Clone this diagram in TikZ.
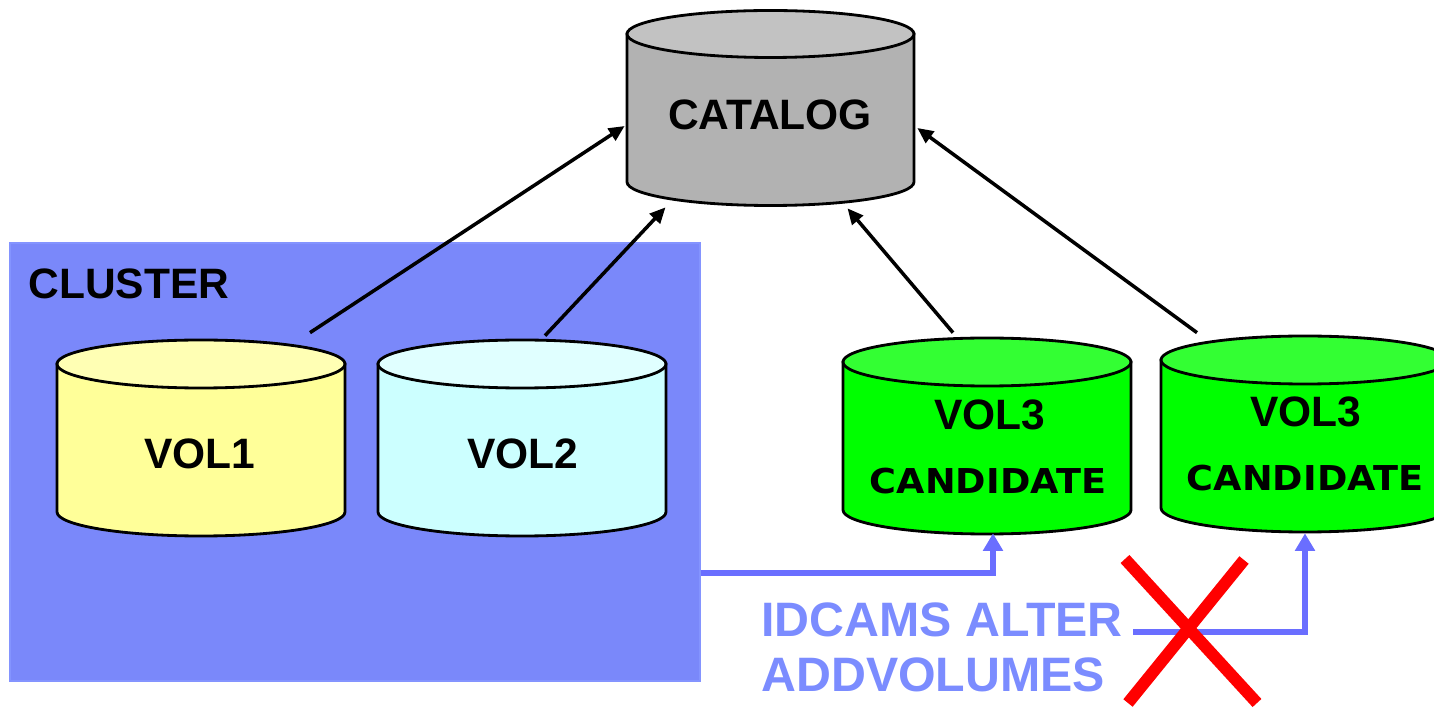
\documentclass[tikz,border=0pt]{standalone}
\usepackage{fontspec}
\usepackage{graphicx}
\setmainfont{Liberation Sans}
\newfontfamily\candfont{DejaVu Sans}
\usetikzlibrary{arrows.meta,calc}
\definecolor{clusterfill}{HTML}{7A88FA}
\definecolor{clusterdraw}{HTML}{8494FF}
\definecolor{bluearrow}{HTML}{6A6EFF}
\definecolor{bluetext}{HTML}{7B8CFF}
\definecolor{cattop}{HTML}{C2C2C2}
\definecolor{catbody}{HTML}{B2B2B2}
\definecolor{voloneTop}{HTML}{FFFFB4}
\definecolor{voloneBody}{HTML}{FFFF99}
\definecolor{voltwoTop}{HTML}{E0FFFF}
\definecolor{voltwoBody}{HTML}{CCFFFF}
\definecolor{volthreeTop}{HTML}{33FF33}
\definecolor{volthreeBody}{HTML}{00FF00}
\newcommand{\dbcyl}[8]{%
  \filldraw[cylline, fill=#8] (#2-#5,#3) -- (#2-#5,#4)
     arc[start angle=180, end angle=360, x radius={#5*0.02cm}, y radius={#6*0.02cm}]
     -- (#2+#5,#3) -- cycle;
  \filldraw[cylline, fill=#7] (#2,#3) ellipse[x radius={#5*0.02cm}, y radius={#6*0.02cm}];
  \node[inner sep=0, minimum width={2*#5*0.02cm}, minimum height={(#3-#4+2*#6)*0.02cm}] (#1) at (#2,{(#3+#4)/2}) {};
}
\tikzset{
  cylline/.style={draw=black, line width=1.6pt},
  bigtxt/.style={font=\bfseries\fontsize{24.2pt}{26pt}\selectfont, inner sep=0, text=black},
  candtxt/.style={font=\candfont\bfseries\fontsize{19.5pt}{21pt}\selectfont, inner sep=0, text=black},
  bluetxt/.style={font=\bfseries\fontsize{27.5pt}{30pt}\selectfont, inner sep=0, text=bluetext, anchor=west},
  blackarrow/.style={draw=black, line width=2pt, -{Triangle[length=9pt,width=8pt]}},
  bluearr/.style={draw=bluearrow, line width=2.9pt, -{Triangle[length=10pt,width=11pt]}},
  redx/.style={draw=red, line width=6.8pt},
}
\begin{document}
\begin{tikzpicture}[x=0.02cm,y=0.02cm]
\useasboundingbox (0,0) rectangle (1434,707);
% cluster box
\node[draw=clusterdraw, line width=0.8pt, fill=clusterfill, inner sep=0,
      minimum width={690*0.02cm}, minimum height={438*0.02cm}] (cluster) at (355,245) {};
\node[bigtxt, anchor=west] (clusterlbl) at (28,423) {CLUSTER};
% cylinders
\dbcyl{cat}{770.5}{673}{525}{143.5}{23.5}{cattop}{catbody}
\dbcyl{vol1}{201}{343}{195}{144}{24}{voloneTop}{voloneBody}
\dbcyl{vol2}{522}{343}{195}{144}{24}{voltwoTop}{voltwoBody}
\dbcyl{vol3a}{987}{345}{197}{144}{24}{volthreeTop}{volthreeBody}
\dbcyl{vol3b}{1305}{347}{199}{144}{24}{volthreeTop}{volthreeBody}
% labels
\node[bigtxt] (catlbl) at (770,592) {CATALOG};
\node[bigtxt] (vol1lbl) at (200,253) {VOL1};
\node[bigtxt] (vol2lbl) at (523,253) {VOL2};
\node[bigtxt] (vol3albl) at (990,292) {VOL3};
\node[candtxt] (cand3a) at (988,226) {\scalebox{1.07}[1]{CANDIDATE}};
\node[bigtxt] (vol3blbl) at (1306,295) {VOL3};
\node[candtxt] (cand3b) at (1305,229) {\scalebox{1.07}[1]{CANDIDATE}};
\node[bluetxt] (idcams) at (761,87) {IDCAMS ALTER};
\node[bluetxt] (addvol) at (761,32) {ADDVOLUMES};
% black arrows to catalog
\draw[blackarrow] ($(vol1.north)+(109,7)$) -- ($(cat.west)+(-2,-18)$);
\draw[blackarrow] ($(vol2.north)+(23,4)$) -- ($(cat.south)+(-105,-1.5)$);
\draw[blackarrow] ($(vol3a.north)+(-34,5)$) -- ($(cat.south)+(77,-2.5)$);
\draw[blackarrow] ($(vol3b.north)+(-108,3)$) -- ($(cat.east)+(3,-20)$);
% blue connectors
\draw[bluearr] ($(cluster.east)+(0,-111)$) -| ($(vol3a.south)+(6,1)$);
\coordinate (altstart) at ($(idcams.east)+(10,-12)$);
\draw[bluearr] (altstart) -| ($(vol3b.south)+(0,-1)$);
% red cross
\draw[redx] (1125,148) -- (1257,4);
\draw[redx] (1244,147) -- (1128,4);
\end{tikzpicture}
\end{document}
